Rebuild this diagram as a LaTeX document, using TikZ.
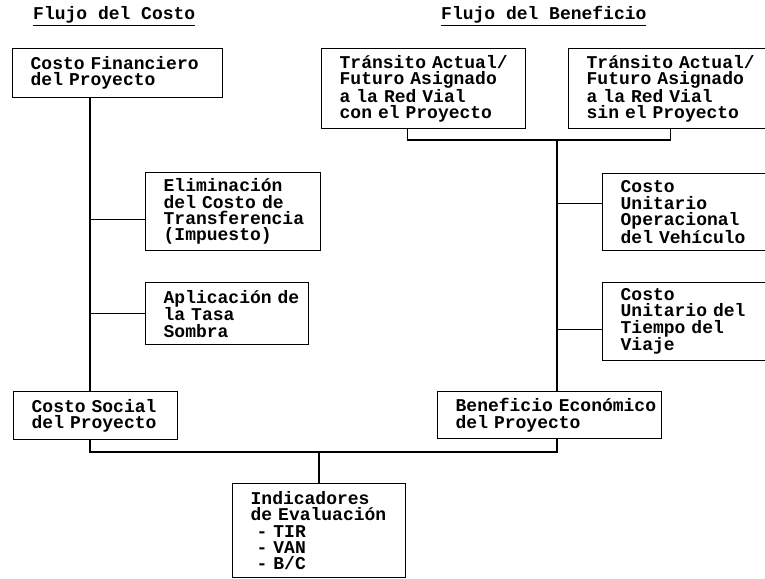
\documentclass[tikz,border=0pt]{standalone}
\usepackage{fontspec}
\setmainfont{Liberation Mono}
\usepackage{tikz}
\usetikzlibrary{calc}
\AtBeginDocument{\setlength{\lineskiplimit}{-20pt}}
\tikzset{
  caja/.style 2 args={draw, line width=1.3pt, anchor=north west, align=left,
    inner xsep=0pt, inner ysep=0pt, text width=#1, minimum height=#2,
    execute at begin node={\leftskip 18pt\relax}},
  titulo/.style={anchor=base west, inner sep=0pt},
  tronco/.style={line width=1.8pt},
  junta/.style={line width=1.2pt},
  rama/.style={line width=.9pt}
}

\begin{document}
\begin{tikzpicture}[x=1pt,y=-1pt,font=\bfseries\fontsize{18}{16.3}\selectfont\spaceskip.6em\relax]
\useasboundingbox (0,0) rectangle (765,578);
\clip (0,0) rectangle (765,578);
\node[titulo] (tcosto) at (33,20) {\underline{Flujo del Costo}};
\node[titulo] (tbenef) at (441,20) {\underline{Flujo del Beneficio}};
\node[caja={210}{49}] (fin) at (12,48) {Costo Financiero\\del Proyecto};
\node[caja={204}{80}] (con) at (321,48) {Tránsito Actual/\\Futuro Asignado\\a la Red Vial\\con el Proyecto};
\node[caja={204}{80}] (sin) at (568,48) {Tránsito Actual/\\Futuro Asignado\\a la Red Vial\\sin el Proyecto};
\node[caja={175}{78}] (elim) at (145,172) {Eliminación\\del Costo de\\Transferencia\\(Impuesto)};
\node[caja={163}{62}] (apl) at (145,282) {Aplicación de\\la Tasa\\Sombra};
\node[caja={173}{77}] (oper) at (602,173) {Costo\\Unitario\\Operacional\\del Vehículo};
\node[caja={173}{78}] (tiem) at (602,282) {Costo\\Unitario del\\Tiempo del\\Viaje};
\node[caja={164}{48}] (soc) at (13,391) {Costo Social\\del Proyecto};
\node[caja={224}{47}] (ben) at (437,391) {Beneficio Económico\\del Proyecto};
\node[caja={173}{94}] (ind) at (232,483) {Indicadores\\de Evaluación\\\ - TIR\\\ - VAN\\\ - B/C};

\coordinate (lsp) at (90,0);
\coordinate (rsp) at (557,0);
\coordinate (arriba) at (0,140);
\coordinate (abajo) at (0,452);
\path ([yshift=-8pt]elim.west) coordinate (e1) (apl.west) coordinate (a1)
  ([yshift=9pt]oper.west) coordinate (o1) ([yshift=-8pt]tiem.west) coordinate (t1)
  ([xshift=-16pt]con.south) coordinate (c1);

\draw[tronco] (fin.south -| lsp) -- (soc.north -| lsp);
\draw[rama] (e1) -- (e1 -| lsp);
\draw[rama] (a1) -- (a1 -| lsp);
\draw[junta] (c1) -- (c1 |- arriba) -- (sin.south |- arriba) -- (sin.south);
\draw[tronco] (rsp |- arriba) -- (rsp |- ben.north);
\draw[rama] (o1) -- (o1 -| rsp);
\draw[rama] (t1) -- (t1 -| rsp);
\draw[junta] (soc.south -| lsp) -- (lsp |- abajo) -- (rsp |- abajo) -- (ben.south -| rsp);
\draw[tronco] (ind.north |- abajo) -- (ind.north);
\end{tikzpicture}
\end{document}
